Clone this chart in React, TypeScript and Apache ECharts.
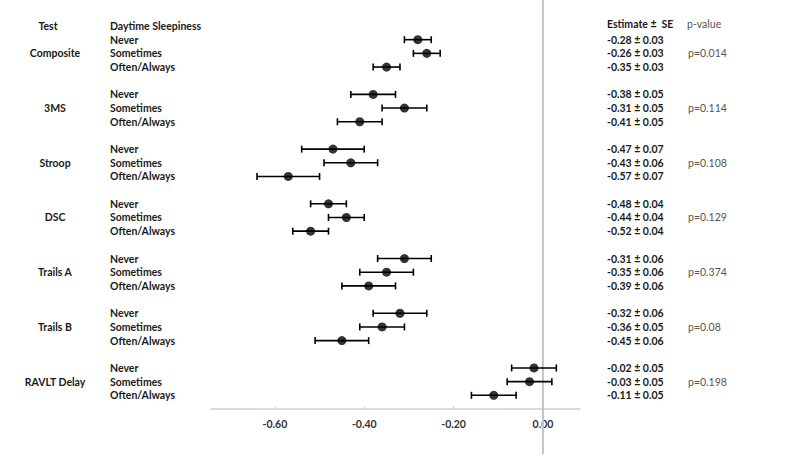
import React, { useEffect, useRef } from "react";
import * as echarts from "echarts";

const tests = ["Composite", "3MS", "Stroop", "DSC", "Trails A", "Trails B", "RAVLT Delay"];
const levels = ["Never", "Sometimes", "Often/Always"];
const estimates = [
  [-0.28, -0.26, -0.35],
  [-0.38, -0.31, -0.41],
  [-0.47, -0.43, -0.57],
  [-0.48, -0.44, -0.52],
  [-0.31, -0.35, -0.39],
  [-0.32, -0.36, -0.45],
  [-0.02, -0.03, -0.11],
];
const stdErrors = [
  [0.03, 0.03, 0.03],
  [0.05, 0.05, 0.05],
  [0.07, 0.06, 0.07],
  [0.04, 0.04, 0.04],
  [0.06, 0.06, 0.06],
  [0.06, 0.05, 0.06],
  [0.05, 0.05, 0.05],
];
const pValues = ["p=0.014", "p=0.114", "p=0.108", "p=0.129", "p=0.374", "p=0.08", "p=0.198"];
const xTicks = [-0.6, -0.4, -0.2, 0];

const FONT = "Lato, 'Open Sans', sans-serif";
const ROWS_PER_GROUP = 4;
const TOTAL_ROWS = tests.length * ROWS_PER_GROUP - 1; // 27
const rowY = (g: number, i: number) => TOTAL_ROWS - (g * ROWS_PER_GROUP + i);
const HEADER_Y = TOTAL_ROWS + 1;
const Y_MIN = 0;
const Y_MAX = 29.9;
const ZERO_LINE_BOTTOM = -3.3;

type TextItem = { y: number; text: string };

function textSeries(items: TextItem[], x: number, align: string, color: string, weight: string) {
  return {
    type: "custom",
    silent: true,
    clip: false,
    data: items.map((d) => [0, d.y]),
    renderItem: (params: any, api: any) => {
      const item = items[params.dataIndex];
      const p = api.coord([0, item.y]);
      return {
        type: "text",
        x,
        y: p[1],
        style: {
          text: item.text,
          fill: color,
          fontSize: 10.5,
          fontFamily: FONT,
          fontWeight: weight,
          align,
          verticalAlign: "middle",
        },
      };
    },
  };
}

export default function App() {
  const ref = useRef<HTMLDivElement>(null);

  useEffect(() => {
    if (!ref.current) return;
    const chart = echarts.init(ref.current, undefined, { renderer: "svg" });

    const points: number[][] = [];
    const bars: number[][] = [];
    const levelItems: TextItem[] = [];
    const groupItems: TextItem[] = [];
    const estItems: TextItem[] = [];
    const pItems: TextItem[] = [];
    tests.forEach((t, g) => {
      groupItems.push({ y: rowY(g, 1), text: t });
      pItems.push({ y: rowY(g, 1), text: pValues[g] });
      levels.forEach((lv, i) => {
        const e = estimates[g][i];
        const s = stdErrors[g][i];
        const y = rowY(g, i);
        points.push([e, y]);
        bars.push([e - s, e + s, y]);
        levelItems.push({ y, text: lv });
        estItems.push({ y, text: `${e.toFixed(2)} \u00b1 ${s.toFixed(2)}` });
      });
    });

    const dark = "#1a1a1a";
    const option: any = {
      animation: false,
      textStyle: { fontFamily: FONT },
      grid: { left: 211, right: 213, top: 0, bottom: 58, outerBoundsMode: "none", containLabel: false },
      xAxis: {
        type: "value",
        min: -0.743,
        max: 0.083,
        splitLine: { show: false },
        axisLine: { show: true, onZero: false, lineStyle: { color: "#d0d0d0", width: 1.5 } },
        axisTick: { show: true, inside: true, length: 3, customValues: xTicks, lineStyle: { color: "#d0d0d0" } },
        axisLabel: {
          customValues: xTicks,
          formatter: (v: number) => v.toFixed(2),
          color: "#333",
          fontWeight: "bold",
          fontSize: 10.5,
          fontFamily: FONT,
          margin: 9,
        },
      },
      yAxis: {
        type: "value",
        min: Y_MIN,
        max: Y_MAX,
        splitLine: { show: false },
        axisLine: { show: false },
        axisTick: { show: false },
        axisLabel: { show: false },
      },
      series: [
        {
          type: "custom",
          silent: true,
          clip: false,
          data: [[0, Y_MAX, ZERO_LINE_BOTTOM]],
          renderItem: (params: any, api: any) => {
            const a = api.coord([api.value(0), api.value(1)]);
            const b = api.coord([api.value(0), api.value(2)]);
            return {
              type: "line",
              shape: { x1: a[0], y1: a[1], x2: b[0], y2: b[1] },
              style: { stroke: "#c4c4c4", lineWidth: 2 },
            };
          },
        },
        {
          type: "custom",
          silent: true,
          data: bars,
          renderItem: (params: any, api: any) => {
            const lo = api.coord([api.value(0), api.value(2)]);
            const hi = api.coord([api.value(1), api.value(2)]);
            const st = { stroke: "#000", lineWidth: 1.6 };
            const h = 3.5;
            return {
              type: "group",
              children: [
                { type: "line", shape: { x1: lo[0], y1: lo[1], x2: hi[0], y2: hi[1] }, style: st },
                { type: "line", shape: { x1: lo[0], y1: lo[1] - h, x2: lo[0], y2: lo[1] + h }, style: st },
                { type: "line", shape: { x1: hi[0], y1: hi[1] - h, x2: hi[0], y2: hi[1] + h }, style: st },
              ],
            };
          },
        },
        {
          type: "scatter",
          data: points,
          symbol: "circle",
          symbolSize: 9,
          itemStyle: { color: "#000" },
          silent: true,
        },
        textSeries([{ y: HEADER_Y, text: "Test" }], 48, "center", dark, "bold"),
        textSeries([{ y: HEADER_Y, text: "Daytime Sleepiness" }], 110, "left", dark, "bold"),
        textSeries([{ y: HEADER_Y + 0.15, text: "Estimate \u00b1  SE" }], 607, "left", dark, "bold"),
        textSeries([{ y: HEADER_Y + 0.15, text: "p-value" }], 687, "left", "#555", "normal"),
        textSeries(groupItems, 55, "center", dark, "bold"),
        textSeries(levelItems, 110, "left", dark, "bold"),
        textSeries(estItems, 607, "left", dark, "bold"),
        textSeries(pItems, 688, "left", "#555", "normal"),
      ],
    };
    chart.setOption(option);
    return () => chart.dispose();
  }, []);

  return (
    <div
      ref={ref}
      style={{ position: "fixed", left: 0, top: 0, width: 793, height: 467, background: "#fff" }}
    />
  );
}
